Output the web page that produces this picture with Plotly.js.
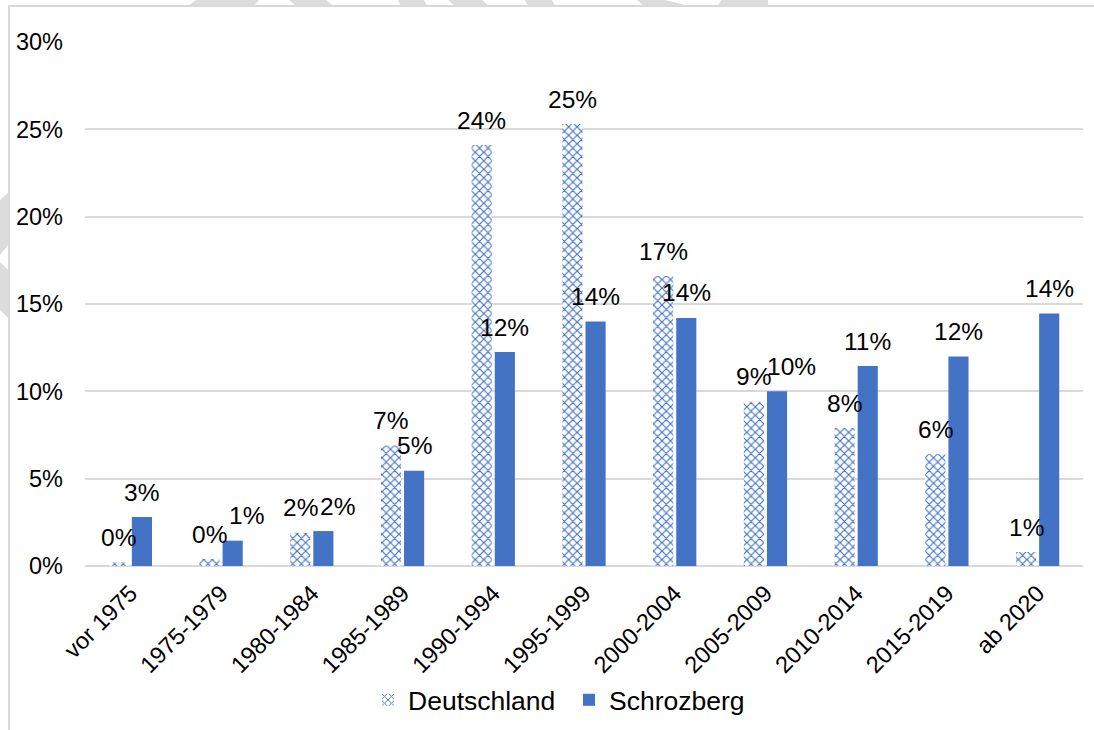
<!DOCTYPE html>
<html>
<head>
<meta charset="utf-8">
<script src="https://cdn.plot.ly/plotly-3.0.1.min.js"></script>
<style>
  html, body { margin: 0; padding: 0; background: #ffffff; overflow: hidden; }
  #frame { position: absolute; left: 8px; top: 5px; width: 1200px; height: 800px; border: 2px solid #d9d9d9; box-sizing: border-box; }
  #wm { position: absolute; left: 0; top: 0; }
  #chart { position: absolute; left: 0; top: 0; width: 1094px; height: 730px; }
</style>
</head>
<body>
<svg id="wm" width="1094" height="730">
  <g fill="#dcdcdc">
    <polygon points="196,0 259,0 254,6 188,6"/>
    <polygon points="289,0 326,0 333,6 296,6"/>
    <polygon points="398,0 424,0 427,6 401,6"/>
    <polygon points="448,0 482,0 489,6 455,6"/>
    <polygon points="525,0 552,0 555,6 528,6"/>
    <polygon points="637,0 665,0 690,6 644,6"/>
    <polygon points="722,0 768,0 768,6 717,6"/>
    <polygon points="0,200 8,193 8,245 0,255"/>
    <polygon points="0,262 8,270 8,318 0,310"/>
  </g>
</svg>
<div id="frame"></div>
<div id="chart"></div>
<script>
const categories = ["vor 1975", "1975-1979", "1980-1984", "1985-1989", "1990-1994", "1995-1999", "2000-2004", "2005-2009", "2010-2014", "2015-2019", "ab 2020"];
const deutschland = [0.2, 0.4, 1.9, 6.9, 24.1, 25.3, 16.6, 9.4, 7.9, 6.4, 0.8];
const schrozberg = [2.8, 1.45, 2.0, 5.45, 12.25, 14.0, 14.2, 10.0, 11.45, 12.0, 14.45];
const yTickVals = [0, 5, 10, 15, 20, 25, 30];

const FONT = "Liberation Sans, Arial, sans-serif";
const FS = 23.5;
const FS_LABEL = 24.5;
const FS_LEGEND = 26.5;
const BLUE = "#4472C4";

const W = 1094, H = 730;
const M = { l: 85, r: 11, t: 42, b: 164 };
const BARGAP = 0.49;
const YMAX = 30;

// label placement derived from the axis scale
const plotW = W - M.l - M.r, plotH = H - M.t - M.b;
const catW = plotW / categories.length;
const barOffset = (1 - BARGAP) * catW / 4;
const pxPerUnit = plotH / YMAX;

const fmt = v => Math.round(v) + "%";
const annotations = [];
categories.forEach((c, i) => {
  annotations.push({
    x: c, y: deutschland[i], xref: "x", yref: "y",
    text: fmt(deutschland[i]), showarrow: false,
    xshift: -barOffset, yshift: 25,
    font: { family: FONT, size: FS_LABEL, color: "#000000" }
  });
  const close = Math.abs(deutschland[i] - schrozberg[i]) * pxPerUnit < 20;
  annotations.push({
    x: c, y: schrozberg[i], xref: "x", yref: "y",
    text: fmt(schrozberg[i]), showarrow: false,
    xshift: barOffset + (close ? 14 : 0), yshift: 25,
    font: { family: FONT, size: FS_LABEL, color: "#000000" }
  });
});

const traces = [
  {
    type: "bar",
    name: "Deutschland",
    x: categories,
    y: deutschland,
    marker: {
      color: "#ffffff",
      line: { width: 0 },
      pattern: { shape: "x", fgcolor: BLUE, bgcolor: "#ffffff", size: 6, solidity: 0.35, fillmode: "replace" }
    },
    hoverinfo: "skip"
  },
  {
    type: "bar",
    name: "Schrozberg",
    x: categories,
    y: schrozberg,
    marker: { color: BLUE, line: { width: 0 } },
    hoverinfo: "skip"
  }
];

const layout = {
  width: W,
  height: H,
  paper_bgcolor: "rgba(0,0,0,0)",
  plot_bgcolor: "rgba(0,0,0,0)",
  margin: M,
  barmode: "group",
  bargap: BARGAP,
  bargroupgap: 0.13,
  font: { family: FONT, size: FS, color: "#000000" },
  showlegend: true,
  annotations: annotations,
  legend: {
    orientation: "h",
    xref: "container", yref: "container",
    x: 0.3364, xanchor: "left",
    y: 0.041, yanchor: "middle",
    font: { family: FONT, size: FS_LEGEND, color: "#000000" },
    itemwidth: 30,
    entrywidth: 156,
    traceorder: "normal"
  },
  xaxis: {
    type: "category",
    tickangle: -45,
    showgrid: false,
    showline: false,
    zeroline: false,
    ticks: "",
    ticklabelstandoff: 8,
    tickfont: { family: FONT, size: FS, color: "#000000" },
    range: [-0.5, categories.length - 0.5]
  },
  yaxis: {
    range: [0, YMAX],
    tickvals: yTickVals,
    ticktext: yTickVals.map(v => v + "%"),
    showgrid: true,
    gridcolor: "#d9d9d9",
    gridwidth: 2,
    zeroline: true,
    zerolinecolor: "#d9d9d9",
    zerolinewidth: 2,
    showline: false,
    ticks: "",
    ticklabelstandoff: 21,
    tickfont: { family: FONT, size: FS, color: "#000000" }
  }
};

Plotly.newPlot("chart", traces, layout, { displayModeBar: false, staticPlot: true });
</script>
</body>
</html>
